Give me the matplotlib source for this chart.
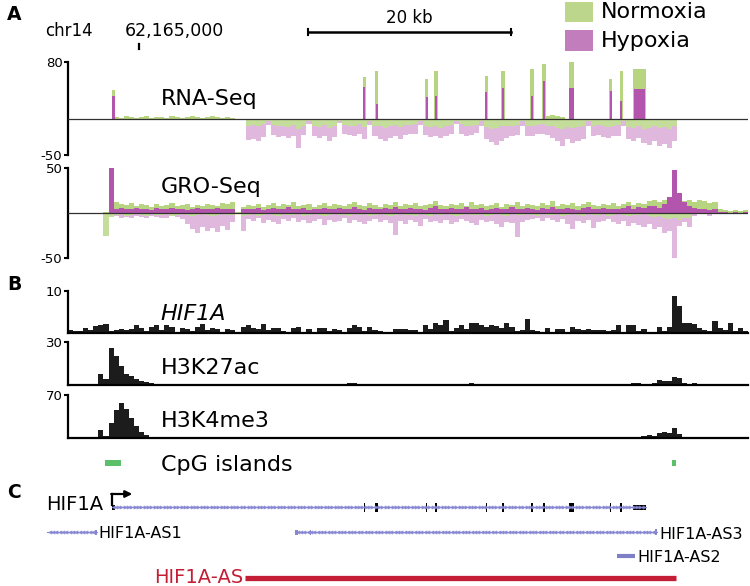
import numpy as np
import matplotlib.pyplot as plt
from matplotlib.patches import Rectangle

# genome positions are kb relative to chr14:62,165,000
# coverage tracks are binned in 0.5 kb bins starting at -7 kb (134 bins)
bin_start = -7.0
bin_size = 0.5

# ---- RNA-Seq ----
# HIF1A exons (kb), also the positions of the RNA-Seq peaks
exon_start = [-2.66, 22.12, 23.30, 28.32, 29.14, 34.14, 35.79, 38.60, 39.78, 42.35, 46.45, 47.42, 48.67]
exon_end = [-2.36, 22.22, 23.55, 28.42, 29.38, 34.24, 35.93, 38.84, 40.02, 42.90, 46.55, 47.56, 49.95]
exon_utr = [True, False, False, False, False, False, False, False, False, False, False, False, True]
rna_norm_peak = [41, 59, 67, 56, 68, 61, 67, 70, 77, 80, 56, 67, 70]
rna_hyp_peak = [33, 45, 21, 31, 33, 38, 43, 33, 53, 43, 40, 26, 42]

rna_norm_bg = [0, 0, 0, 0, 0, 0, 0, 0, 1, 3,
               2, 4, 3, 2, 3, 4, 2, 3, 3, 2,
               4, 3, 2, 3, 4, 3, 2, 3, 4, 3,
               2, 3, 2, 1, 0.5, 0.5, 1, 0.5, 0.5, 1,
               0.5, 0.5, 1, 0.5, 0.5, 0.5, 1, 0.5, 0.5, 0.5,
               1, 0.5, 0.5, 1, 0.5, 0.5, 0.5, 1, 0.5, 0.5,
               1, 0.5, 0.5, 0.5, 1, 0.5, 0.5, 1, 0.5, 0.5,
               0.5, 1, 0.5, 0.5, 1, 0.5, 0.5, 0.5, 1, 0.5,
               0.5, 1, 0.5, 0.5, 0.5, 1, 0.5, 0.5, 1, 0.5,
               0.5, 0.5, 1, 0.5, 4, 6, 5, 3, 0.5, 1,
               0.5, 0.5, 1, 0.5, 0.5, 0.5, 1, 0.5, 0.5, 1,
               0.5, 0.5, 1, 0.5, 0.5, 1, 0.5, 0.5, 1, 0.5,
               0.5, 0.3, 0.3, 0.3, 0.3, 0.3, 0.3, 0.3, 0.3, 0.3,
               0.3, 0.3, 0.3, 0.3]
rna_norm_neg = [0, 0, 0, 0, 0, 0, 0, 0, 0, 0,
                0, 0, 0, 0, 0, 0, 0, 0, 0, 0,
                0, 0, 0, 0, 0, 0, 0, 0, 0, 0,
                0, 0, 0, 0, 0, 9, 8, 10, 7, 3,
                8, 10, 9, 11, 8, 14, 9, 2, 9, 11,
                8, 12, 10, 2, 8, 9, 10, 7, 11, 3,
                9, 10, 12, 9, 8, 11, 8, 8, 7, 3,
                9, 11, 10, 12, 9, 8, 3, 7, 10, 9,
                8, 3, 11, 13, 12, 10, 9, 10, 8, 3,
                9, 10, 8, 7, 9, 10, 12, 13, 11, 12,
                11, 9, 3, 9, 8, 10, 11, 9, 8, 3,
                11, 12, 10, 13, 12, 10, 12, 11, 13, 9,
                0, 0, 0, 0, 0, 0, 0, 0, 0, 0,
                0, 0, 0, 0]
rna_hyp_neg = [0, 0, 0, 0, 0, 0, 0, 0, 0, 0,
               0, 0, 0, 0, 0, 0, 0, 0, 0, 0,
               0, 0, 0, 0, 0, 0, 0, 0, 0, 0,
               0, 0, 0, 0, 0, 29, 27, 30, 25, 8,
               22, 25, 24, 26, 23, 40, 22, 6, 24, 26,
               23, 30, 25, 5, 21, 22, 24, 20, 28, 8,
               24, 27, 31, 26, 24, 28, 22, 21, 20, 8,
               22, 25, 24, 26, 23, 21, 7, 20, 24, 22,
               19, 9, 28, 32, 36, 30, 26, 24, 22, 10,
               24, 23, 21, 20, 22, 26, 30, 38, 28, 33,
               30, 27, 10, 24, 22, 25, 26, 23, 24, 9,
               28, 30, 26, 33, 36, 30, 38, 34, 40, 30,
               0, 0, 0, 0, 0, 0, 0, 0, 0, 0,
               0, 0, 0, 0]

# ---- GRO-Seq ----
gro_norm_pos = [0.5, 0.5, 0.5, 0.5, 0.5, 0.5, 0.5, 1, 6, 12,
                10, 9, 11, 8, 10, 9, 7, 10, 8, 9,
                11, 8, 9, 10, 7, 9, 8, 10, 9, 8,
                11, 10, 12, 1, 7, 9, 8, 10, 7, 9,
                11, 8, 10, 9, 12, 8, 9, 10, 7, 9,
                11, 8, 10, 9, 8, 10, 12, 9, 8, 11,
                9, 7, 10, 9, 12, 8, 10, 9, 11, 8,
                9, 10, 13, 9, 8, 10, 9, 11, 8, 12,
                9, 10, 8, 9, 11, 7, 10, 9, 12, 8,
                10, 9, 8, 11, 9, 13, 8, 10, 9, 11,
                8, 10, 12, 9, 8, 10, 9, 11, 8, 10,
                12, 9, 11, 10, 13, 14, 12, 15, 16, 14,
                17, 13, 15, 12, 14, 13, 11, 12, 4, 3,
                2, 3, 2, 3]
gro_hyp_pos = [0.3, 0.3, 0.3, 0.3, 0.3, 0.3, 0.3, 0.5, 50, 5,
               6, 4, 5, 6, 4, 5, 3, 6, 4, 5,
               6, 4, 5, 3, 5, 6, 4, 5, 4, 6,
               5, 4, 5, 0.5, 4, 5, 4, 6, 3, 5,
               6, 4, 5, 7, 4, 5, 6, 3, 5, 4,
               6, 5, 4, 6, 5, 4, 7, 5, 3, 6,
               5, 4, 6, 5, 7, 4, 5, 6, 4, 5,
               3, 6, 8, 5, 4, 6, 5, 4, 7, 5,
               4, 6, 3, 5, 6, 4, 5, 7, 5, 4,
               6, 5, 3, 6, 4, 7, 5, 4, 6, 5,
               3, 6, 7, 5, 4, 6, 5, 4, 5, 6,
               8, 5, 7, 6, 8, 8, 6, 10, 18, 48,
               22, 12, 8, 6, 5, 4, 3, 4, 1, 1,
               0.5, 1, 0.5, 1]
gro_norm_neg = [0.3, 0.3, 0.3, 0.3, 0.3, 0.3, 0.3, 26, 4, 2,
                1, 3, 2, 1, 2, 3, 1, 2, 2, 1,
                3, 2, 1, 2, 3, 2, 1, 2, 3, 2,
                1, 2, 2, 0.5, 3, 2, 1, 3, 2, 1,
                2, 3, 1, 2, 2, 1, 3, 2, 1, 2,
                3, 2, 1, 2, 2, 3, 1, 2, 1, 3,
                2, 1, 2, 3, 2, 1, 2, 2, 3, 1,
                2, 3, 1, 2, 1, 2, 3, 2, 1, 2,
                2, 1, 3, 2, 1, 2, 3, 1, 2, 2,
                1, 2, 3, 1, 2, 2, 1, 3, 2, 1,
                2, 3, 1, 2, 2, 1, 3, 2, 1, 2,
                3, 2, 2, 1, 3, 4, 3, 5, 7, 6,
                8, 5, 6, 1, 0.5, 0.5, 0.5, 0.5, 0.3, 0.3,
                0.3, 0.3, 0.3, 0.3]
gro_hyp_neg = [0.5, 0.5, 0.5, 0.5, 0.5, 1, 1, 3, 4, 3,
               5, 4, 6, 3, 4, 5, 3, 4, 6, 5,
               3, 4, 7, 12, 18, 22, 15, 20, 17, 21,
               14, 19, 10, 1, 20, 7, 9, 6, 11, 8,
               10, 12, 7, 9, 6, 10, 8, 11, 9, 7,
               13, 8, 10, 9, 6, 11, 8, 10, 12, 9,
               7, 10, 8, 11, 24, 9, 12, 8, 10, 14,
               7, 10, 9, 11, 8, 12, 10, 7, 9, 11,
               13, 8, 10, 9, 12, 15, 10, 11, 27, 10,
               8, 7, 6, 9, 6, 8, 10, 7, 12, 18,
               9, 11, 8, 17, 10, 9, 7, 10, 12, 9,
               14, 11, 13, 15, 12, 18, 16, 22, 20, 50,
               14, 10, 16, 3, 1, 1, 3, 0.5, 0.5, 0.5,
               0.5, 0.5, 0.5, 0.5]

# ---- ChIP-Seq (panel B) ----
chip_hif1a = [0.6, 0.5, 0.5, 1.2, 0.8, 1.6, 1.8, 2.2, 0.5, 0.8,
              1.0, 0.6, 1.0, 1.8, 1.2, 0.4, 1.5, 1.8, 0.8, 1.8,
              1.5, 0.3, 1.2, 1.0, 0.4, 1.5, 2.2, 0.8, 1.2, 1.0,
              0.3, 0.9, 0.8, 0.0, 1.5, 1.8, 1.2, 1.0, 2.2, 0.6,
              1.3, 1.2, 0.5, 0.2, 1.2, 1.5, 0.3, 1.0, 0.3, 1.3,
              1.2, 0.4, 1.0, 0.8, 0.2, 1.2, 1.8, 1.5, 0.5, 1.5,
              0.6, 0.5, 0.1, 0.1, 0.9, 1.0, 1.0, 0.8, 0.8, 0.3,
              2.0, 1.0, 2.3, 1.8, 3.0, 0.5, 1.2, 2.0, 1.0, 2.5,
              2.3, 1.8, 1.5, 2.0, 1.6, 1.2, 2.3, 1.5, 0.5, 0.8,
              3.3, 0.6, 0.5, 0.1, 1.2, 0.1, 1.0, 1.0, 0.2, 1.5,
              1.0, 0.8, 0.9, 0.6, 0.8, 0.7, 0.4, 0.8, 1.8, 0.1,
              2.0, 1.8, 0.5, 1.0, 0.2, 0.1, 1.5, 0.5, 1.5, 8.8,
              6.5, 2.5, 2.5, 2.2, 1.2, 0.8, 0.5, 2.8, 1.2, 0.8,
              2.3, 0.4, 1.3, 0.5]
chip_h3k27ac = [0.3, 0.3, 0.3, 0.3, 0.3, 0.4, 8, 4, 26, 20,
                13, 8, 6, 4, 3, 2, 1.2, 0.8, 0.5, 0.6,
                0.4, 0.5, 0.6, 0.3, 0.5, 0.4, 0.6, 0.3, 0.5, 0.4,
                0.5, 0.3, 0.6, 0.4, 0.5, 0.3, 0.6, 0.5, 0.4, 0.7,
                0.5, 0.4, 0.6, 0.3, 0.5, 0.4, 0.6, 0.5, 0.4, 0.5,
                0.6, 0.4, 0.8, 0.5, 0.4, 1.2, 1.5, 1.0, 0.5, 0.4,
                0.5, 0.3, 0.4, 0.6, 0.5, 0.3, 0.4, 0.6, 0.5, 0.4,
                0.6, 0.5, 0.4, 0.7, 0.8, 0.6, 0.5, 0.9, 1.0, 1.5,
                0.8, 0.6, 0.5, 0.4, 0.3, 0.5, 0.4, 0.6, 0.5, 0.3,
                0.5, 0.6, 0.4, 0.3, 0.5, 0.4, 0.8, 0.6, 0.3, 0.4,
                0.5, 0.4, 0.6, 0.3, 0.5, 0.4, 0.3, 0.5, 0.4, 0.3,
                1.0, 1.2, 1.5, 1.0, 0.8, 1.5, 3.5, 2.5, 2.8, 5.5,
                5.0, 1.5, 1.0, 1.2, 0.8, 1.0, 0.9, 0.8, 1.0, 0.8,
                0.6, 0.4, 0.3, 0.5]
chip_h3k4me3 = [0, 0, 0, 0, 0, 0, 13, 4, 24, 45,
                57, 48, 32, 20, 10, 5, 2, 0.5, 0.3, 0.3,
                0.3, 0.3, 0.3, 0.5, 0.3, 0.3, 0.3, 0.3, 0.5, 0.3,
                0.3, 0.3, 0.3, 0.3, 0.3, 0.5, 0.3, 0.3, 0.3, 0.3,
                0.3, 0.5, 0.3, 0.3, 0.3, 0.3, 0.3, 0.3, 0.5, 0.3,
                0.3, 0.3, 0.3, 0.3, 0.5, 0.3, 0.3, 0.3, 0.3, 0.3,
                0.3, 0.3, 0.5, 0.3, 0.3, 0.3, 0.3, 0.3, 0.3, 0.5,
                0.3, 0.3, 0.3, 0.3, 0.3, 0.3, 0.5, 0.3, 0.3, 0.3,
                0.3, 0.3, 0.3, 0.5, 0.3, 0.3, 0.3, 0.3, 0.3, 0.3,
                0.5, 0.3, 0.3, 0.3, 0.3, 0.3, 0.3, 0.5, 0.3, 0.3,
                0.3, 0.3, 0.3, 0.3, 0.5, 0.3, 0.3, 0.3, 0.3, 0.3,
                0.5, 1, 2, 3, 5, 4, 8, 9, 8, 16,
                6, 2, 1, 0.3, 0.3, 0.3, 0.3, 0.3, 0.3, 0.3,
                0.3, 0.3, 0.3, 0.3]

cpg_start = [-3.35, 52.50]
cpg_end = [-1.80, 52.90]

# ---- gene models (panel C) ----
hif1a_start, hif1a_end = -2.66, 49.95
as1_start, as1_end = -9.06, -4.14
as3_start, as3_end = 15.37, 51.03
as2_start, as2_end = 47.09, 48.87
hif1a_as_start, hif1a_as_end = 10.44, 52.91

scale_bar_start = 16.65
scale_bar_kb = 20

# colours
c_norm = '#b7d580'
c_norm_neg = '#c4dd9a'
c_hyp = '#b455ad'
c_hyp_neg = '#e1b8dd'
c_chip = '#1c1c1c'
c_gene = '#8686d2'

W, H = 750, 586
fig = plt.figure(figsize=(7.5, 5.86), dpi=100)


def kb(x):
    # pixel column of the picture -> kb
    return (x - 139) / 10.15


edges = bin_start + bin_size * np.arange(len(gro_norm_pos) + 1)


def track(y_top, y_bot, lo, hi):
    ax = fig.add_axes([68 / W, 1 - y_bot / H, 680 / W, (y_bot - y_top) / H])
    ax.set_xlim(kb(68), kb(748))
    ax.set_ylim(lo, hi)
    for s in ['top', 'right', 'bottom']:
        ax.spines[s].set_visible(False)
    ax.spines['left'].set_linewidth(1.6)
    ax.set_xticks([])
    ax.tick_params(axis='y', length=3, width=1.5, pad=1, labelsize=9.5)
    ax.patch.set_alpha(0)
    return ax


# RNA-Seq
ax = track(62, 155, -50, 80)
ax.stairs(-np.array(rna_hyp_neg), edges, fill=True, baseline=0, color=c_hyp_neg, lw=0)
ax.stairs(-np.array(rna_norm_neg), edges, fill=True, baseline=0, color=c_norm_neg, lw=0)
ax.stairs(rna_norm_bg, edges, fill=True, baseline=0, color=c_norm, lw=0)
ex_c = (np.array(exon_start) + np.array(exon_end)) / 2
ex_w = np.maximum(np.array(exon_end) - np.array(exon_start), 0.3)
ax.bar(ex_c, rna_norm_peak, width=ex_w, color=c_norm, lw=0)
ax.bar(ex_c, rna_hyp_peak, width=ex_w * 0.8, color=c_hyp, lw=0)
ax.axhline(0, color='#303030', lw=0.9, zorder=5)
ax.set_yticks([-50, 80])
ax.set_yticklabels(['-50', '80'])

# GRO-Seq
ax = track(168, 258, -50, 50)
ax.stairs(gro_norm_pos, edges, fill=True, baseline=0, color=c_norm, lw=0)
ax.stairs(gro_hyp_pos, edges, fill=True, baseline=0, color=c_hyp, lw=0)
ax.stairs(-np.array(gro_hyp_neg), edges, fill=True, baseline=0, color=c_hyp_neg, lw=0)
ax.stairs(-np.array(gro_norm_neg), edges, fill=True, baseline=0, color=c_norm_neg, lw=0)
ax.axhline(0, color='#303030', lw=0.9, zorder=5)
ax.set_yticks([-50, 50])
ax.set_yticklabels(['-50', '50'])

# ChIP-Seq tracks
for vals, top, y0, y1 in [(chip_hif1a, 10, 291, 333),
                          (chip_h3k27ac, 30, 342, 385),
                          (chip_h3k4me3, 70, 395, 438)]:
    ax = track(y0, y1, 0, top)
    ax.stairs(vals, edges, fill=True, baseline=0, color=c_chip, lw=0)
    ax.axhline(0, color='black', lw=1.6, clip_on=False)
    ax.set_yticks([top])
    ax.set_yticklabels([str(top)])

# overlay for labels and annotations: x in kb, y in pixels
ov = fig.add_axes([0, 0, 1, 1], zorder=10)
ov.set_xlim(kb(0), kb(W))
ov.set_ylim(H, 0)
ov.axis('off')

for letter, y in [('A', 15), ('B', 284), ('C', 492)]:
    ov.text(kb(7), y, letter, fontsize=13.5, fontweight='bold', va='center')

ov.text(kb(45), 31, 'chr14', fontsize=12, va='center')
ov.text(kb(125), 31, '62,165,000', fontsize=12.5, va='center')
ov.plot([0, 0], [44, 49], color='black', lw=1.6)

sb_end = scale_bar_start + scale_bar_kb
ov.plot([scale_bar_start, sb_end], [32, 32], color='black', lw=1.8)
for x in [scale_bar_start, sb_end]:
    ov.plot([x, x], [29, 35], color='black', lw=1.5)
ov.text((scale_bar_start + sb_end) / 2, 18, '%d kb' % scale_bar_kb, fontsize=12,
        ha='center', va='center')

# legend
ov.add_patch(Rectangle((kb(565), 2), kb(593) - kb(565), 20, color='#bcd68c', lw=0))
ov.add_patch(Rectangle((kb(565), 30), kb(593) - kb(565), 21, color='#c27dbd', lw=0))
ov.text(kb(601), 18, 'Normoxia', fontsize=16, va='baseline')
ov.text(kb(601), 47, 'Hypoxia', fontsize=16, va='baseline')

# track labels
ov.text(kb(161), 105, 'RNA-Seq', fontsize=16, va='baseline')
ov.text(kb(161), 193, 'GRO-Seq', fontsize=16, va='baseline')
ov.text(kb(160), 320, 'HIF1A', fontsize=16, style='italic', va='baseline')
ov.text(kb(161), 374, 'H3K27ac', fontsize=16, va='baseline')
ov.text(kb(161), 427, 'H3K4me3', fontsize=16, va='baseline')
ov.text(kb(161), 471, 'CpG islands', fontsize=16, va='baseline')

# CpG islands
for s, e in zip(cpg_start, cpg_end):
    ov.add_patch(Rectangle((s, 460), e - s, 5.5, color='#5cc06a', lw=0))


def gene_line(s, e, y, strand_marker):
    ov.plot([s, e], [y, y], color=c_gene, lw=0.8)
    xs = np.arange(s + 0.25, e - 0.1, 0.33)
    ov.plot(xs, np.full(len(xs), y), ls='none', marker=strand_marker, ms=2.2,
            mfc='none', mec=c_gene, mew=0.6)


# HIF1A gene
gene_line(hif1a_start, hif1a_end, 507, '>')
for s, e, utr in zip(exon_start, exon_end, exon_utr):
    h = 5 if utr else 9
    ov.add_patch(Rectangle((s, 507 - h / 2), e - s, h, color='black', lw=0))
ov.plot([hif1a_start, hif1a_start], [505, 494], color='black', lw=1.6)
ov.annotate('', xy=(hif1a_start + 2.0, 494), xytext=(hif1a_start - 0.08, 494),
            arrowprops=dict(arrowstyle='-|>', color='black', lw=1.6, mutation_scale=10,
                            shrinkA=0, shrinkB=0))
ov.text(kb(46), 510, 'HIF1A', fontsize=14, va='baseline')

# antisense transcripts
gene_line(as1_start, as1_end, 532, '<')
ov.add_patch(Rectangle((as1_end - 0.2, 529.5), 0.2, 5, color=c_gene, lw=0))
ov.text(kb(98), 538, 'HIF1A-AS1', fontsize=11.5, va='baseline')

gene_line(as3_start, as3_end, 532, '<')
ov.add_patch(Rectangle((as3_start, 529.5), 0.3, 5, color=c_gene, lw=0))
ov.add_patch(Rectangle((as3_start + 1.45, 529.5), 0.08, 5, color=c_gene, lw=0))
ov.add_patch(Rectangle((as3_end - 0.15, 529), 0.15, 6, color=c_gene, lw=0))
ov.text(kb(659), 539, 'HIF1A-AS3', fontsize=11.5, va='baseline')

ov.plot([as2_start, as2_end], [556, 556], color='#7f7fc6', lw=3, solid_capstyle='butt')
ov.text(kb(637), 562, 'HIF1A-AS2', fontsize=11.5, va='baseline')

ov.plot([hif1a_as_start, hif1a_as_end], [577.5, 577.5], color='#c41e36', lw=3.8,
        solid_capstyle='butt')
ov.text(kb(243), 577.5, 'HIF1A-AS', fontsize=14, color='#c41e36', ha='right', va='center')

fig.savefig('out.png', dpi=100)
